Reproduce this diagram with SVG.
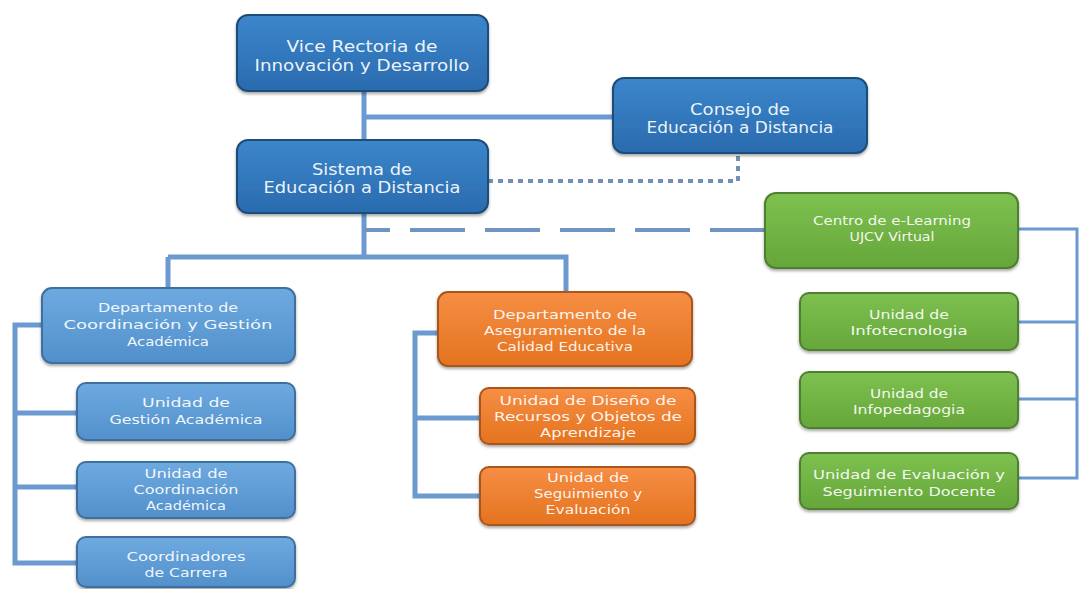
<svg xmlns="http://www.w3.org/2000/svg" width="1079" height="589" viewBox="0 0 1079 589">
<style>
.t{font-family:"DejaVu Sans","Liberation Sans",sans-serif;fill:#ffffff;fill-opacity:0.93;text-anchor:middle}
.big{font-size:15px}
.sm{font-size:13px}
.line{stroke:#6A9AD0;stroke-width:5;fill:none}
.thin{stroke:#6A9AD0;stroke-width:3;fill:none}
.n{stroke-width:2;filter:url(#sh)}
.db{fill:url(#gdb);stroke:#1F4E79}
.lb{fill:url(#glb);stroke:#3E6F9F}
.or{fill:url(#gor);stroke:#A9561C}
.gr{fill:url(#ggr);stroke:#4F8030}
</style>
<defs>
<linearGradient id="gdb" x1="0" y1="0" x2="0" y2="1"><stop offset="0" stop-color="#3C86CB"/><stop offset="1" stop-color="#2A6BAE"/></linearGradient>
<linearGradient id="glb" x1="0" y1="0" x2="0" y2="1"><stop offset="0" stop-color="#6EAAE0"/><stop offset="1" stop-color="#5290CB"/></linearGradient>
<linearGradient id="gor" x1="0" y1="0" x2="0" y2="1"><stop offset="0" stop-color="#F68E44"/><stop offset="1" stop-color="#E4731F"/></linearGradient>
<linearGradient id="ggr" x1="0" y1="0" x2="0" y2="1"><stop offset="0" stop-color="#7EC150"/><stop offset="1" stop-color="#66A63A"/></linearGradient>
<filter id="sh" x="-10%" y="-10%" width="120%" height="130%"><feDropShadow dx="0" dy="2" stdDeviation="1.5" flood-color="#000" flood-opacity="0.35"/></filter>
</defs>
<rect width="1079" height="589" fill="#ffffff"/>
<g id="connectors">
<path class="line" d="M364 90 V140 M364 117 H613 M364 213 V257 M168 257 H566 V292 M168 257 V288"/>
<path d="M488 181 H738 V153" stroke="#7090B4" stroke-width="4" fill="none" stroke-dasharray="5 5"/>
<path d="M364 230 H765" stroke="#6F95C0" stroke-width="4" fill="none" stroke-dasharray="55 20" stroke-dashoffset="29"/>
<path class="line" d="M42 325 H15 V563 H77 M15 413 H77 M15 487 H77"/>
<path class="line" d="M438 333 H415 V496 H480 M415 418 H480"/>
<path class="thin" d="M1018 229 H1077 V478 H1018 M1018 322 H1077 M1018 399 H1077"/>
</g>
<g id="n-vice"><rect class="n db" x="237" y="15" width="251" height="76" rx="11"/>
<text class="t big" x="362" y="52" textLength="151" lengthAdjust="spacingAndGlyphs">Vice Rectoria de</text>
<text class="t big" x="362" y="71" textLength="215" lengthAdjust="spacingAndGlyphs">Innovación y Desarrollo</text></g>
<g id="n-sistema"><rect class="n db" x="237" y="140" width="251" height="73" rx="11"/>
<text class="t big" x="362" y="175" textLength="100" lengthAdjust="spacingAndGlyphs">Sistema de</text>
<text class="t big" x="362" y="193" textLength="197" lengthAdjust="spacingAndGlyphs">Educación a Distancia</text></g>
<g id="n-consejo"><rect class="n db" x="613" y="78" width="254" height="75" rx="11"/>
<text class="t big" x="740" y="115" textLength="100" lengthAdjust="spacingAndGlyphs">Consejo de</text>
<text class="t big" x="740" y="133" textLength="187" lengthAdjust="spacingAndGlyphs">Educación a Distancia</text></g>
<g id="n-deptcoord"><rect class="n lb" x="42" y="288" width="253" height="75" rx="10"/>
<text class="t sm" x="168" y="312" textLength="140" lengthAdjust="spacingAndGlyphs">Departamento de</text>
<text class="t sm" x="168" y="329" textLength="209" lengthAdjust="spacingAndGlyphs">Coordinación y Gestión</text>
<text class="t sm" x="168" y="346" textLength="82" lengthAdjust="spacingAndGlyphs">Académica</text></g>
<g id="n-gestion"><rect class="n lb" x="77" y="383" width="218" height="57" rx="9"/>
<text class="t sm" x="186" y="407" textLength="88" lengthAdjust="spacingAndGlyphs">Unidad de</text>
<text class="t sm" x="186" y="424" textLength="153" lengthAdjust="spacingAndGlyphs">Gestión Académica</text></g>
<g id="n-coordac"><rect class="n lb" x="77" y="462" width="218" height="56" rx="9"/>
<text class="t sm" x="186" y="478" textLength="83" lengthAdjust="spacingAndGlyphs">Unidad de</text>
<text class="t sm" x="186" y="494" textLength="105" lengthAdjust="spacingAndGlyphs">Coordinación</text>
<text class="t sm" x="186" y="510" textLength="80" lengthAdjust="spacingAndGlyphs">Académica</text></g>
<g id="n-coordcar"><rect class="n lb" x="77" y="537" width="218" height="50" rx="9"/>
<text class="t sm" x="186" y="561" textLength="119" lengthAdjust="spacingAndGlyphs">Coordinadores</text>
<text class="t sm" x="186" y="577" textLength="83" lengthAdjust="spacingAndGlyphs">de Carrera</text></g>
<g id="n-deptaseg"><rect class="n or" x="438" y="292" width="254" height="74" rx="10"/>
<text class="t sm" x="565" y="319" textLength="144" lengthAdjust="spacingAndGlyphs">Departamento de</text>
<text class="t sm" x="565" y="335" textLength="162" lengthAdjust="spacingAndGlyphs">Aseguramiento de la</text>
<text class="t sm" x="565" y="351" textLength="136" lengthAdjust="spacingAndGlyphs">Calidad Educativa</text></g>
<g id="n-diseno"><rect class="n or" x="480" y="388" width="215" height="56" rx="9"/>
<text class="t sm" x="588" y="405" textLength="177" lengthAdjust="spacingAndGlyphs">Unidad de Diseño de</text>
<text class="t sm" x="588" y="421" textLength="188" lengthAdjust="spacingAndGlyphs">Recursos y Objetos de</text>
<text class="t sm" x="588" y="437" textLength="96" lengthAdjust="spacingAndGlyphs">Aprendizaje</text></g>
<g id="n-seguim"><rect class="n or" x="480" y="467" width="215" height="58" rx="9"/>
<text class="t sm" x="588" y="482" textLength="82" lengthAdjust="spacingAndGlyphs">Unidad de</text>
<text class="t sm" x="588" y="498" textLength="108" lengthAdjust="spacingAndGlyphs">Seguimiento y</text>
<text class="t sm" x="588" y="514" textLength="85" lengthAdjust="spacingAndGlyphs">Evaluación</text></g>
<g id="n-centro"><rect class="n gr" x="765" y="193" width="253" height="75" rx="11"/>
<text class="t sm" x="892" y="225" textLength="158" lengthAdjust="spacingAndGlyphs">Centro de e-Learning</text>
<text class="t sm" x="892" y="241" textLength="85" lengthAdjust="spacingAndGlyphs">UJCV Virtual</text></g>
<g id="n-infotec"><rect class="n gr" x="800" y="293" width="218" height="57" rx="9"/>
<text class="t sm" x="909" y="319" textLength="80" lengthAdjust="spacingAndGlyphs">Unidad de</text>
<text class="t sm" x="909" y="335" textLength="117" lengthAdjust="spacingAndGlyphs">Infotecnologia</text></g>
<g id="n-infoped"><rect class="n gr" x="800" y="372" width="218" height="56" rx="9"/>
<text class="t sm" x="909" y="398" textLength="78" lengthAdjust="spacingAndGlyphs">Unidad de</text>
<text class="t sm" x="909" y="414" textLength="112" lengthAdjust="spacingAndGlyphs">Infopedagogia</text></g>
<g id="n-eval"><rect class="n gr" x="800" y="453" width="218" height="56" rx="9"/>
<text class="t sm" x="909" y="479" textLength="192" lengthAdjust="spacingAndGlyphs">Unidad de Evaluación y</text>
<text class="t sm" x="909" y="496" textLength="173" lengthAdjust="spacingAndGlyphs">Seguimiento Docente</text></g>
</svg>
